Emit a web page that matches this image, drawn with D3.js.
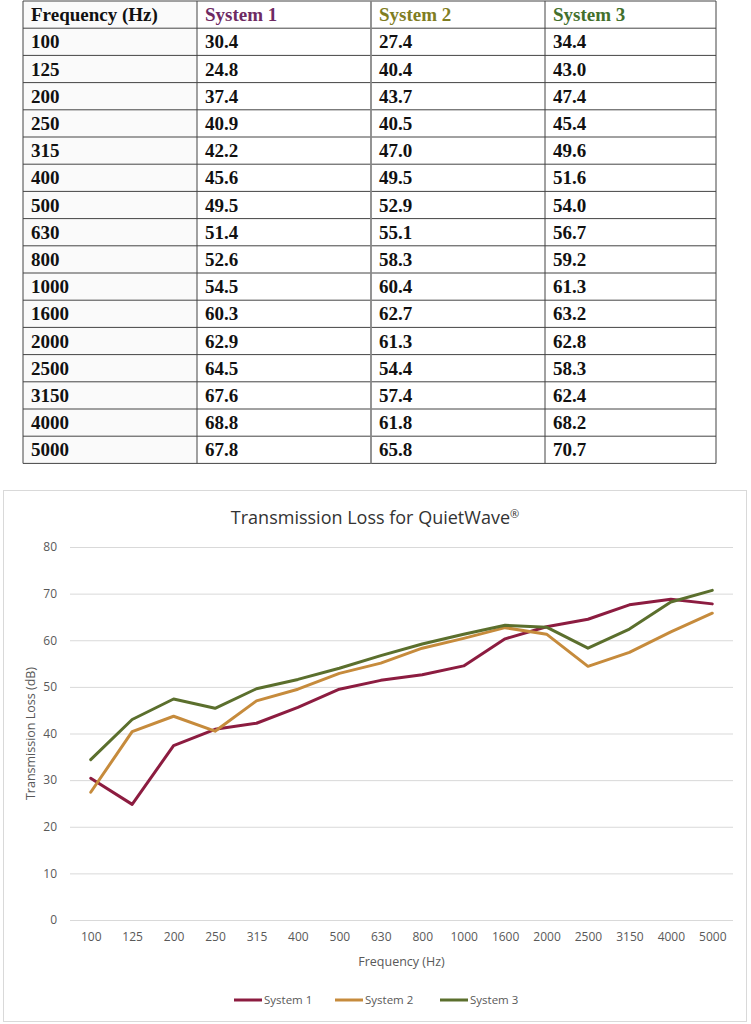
<!DOCTYPE html>
<html>
<head>
<meta charset="utf-8">
<script src="https://cdn.jsdelivr.net/npm/d3@7"></script>
<style>
  body { margin: 0; background: #fff; }
  svg { display: block; }
</style>
</head>
<body>
<div id="output"></div>
<script>
// Data
var frequencies = ['100', '125', '200', '250', '315', '400', '500', '630', '800', '1000', '1600', '2000', '2500', '3150', '4000', '5000'];
var system1 = [30.4, 24.8, 37.4, 40.9, 42.2, 45.6, 49.5, 51.4, 52.6, 54.5, 60.3, 62.9, 64.5, 67.6, 68.8, 67.8];
var system2 = [27.4, 40.4, 43.7, 40.5, 47.0, 49.5, 52.9, 55.1, 58.3, 60.4, 62.7, 61.3, 54.4, 57.4, 61.8, 65.8];
var system3 = [34.4, 43.0, 47.4, 45.4, 49.6, 51.6, 54.0, 56.7, 59.2, 61.3, 63.2, 62.8, 58.3, 62.4, 68.2, 70.7];
var seriesNames = ['System 1', 'System 2', 'System 3'];
var yTicks = [0, 10, 20, 30, 40, 50, 60, 70, 80];

var lineColors = ['#8c1c40', '#c68b3c', '#5b6f2d'];
var headColors = ['#6e2a63', '#7f7d22', '#43702c'];

var width = 751;
var height = 1024;

var svg = d3.select('#output')
  .append('svg')
  .attr('width', width)
  .attr('height', height);

// ---- Table ----
var colEdges = [23, 197, 371, 545, 716];
var tableTop = 1;
var rowH = 27.2;
var serif = '"Liberation Serif", serif';

var rows = frequencies.map(function(f, i) {
  return [f, system1[i].toFixed(1), system2[i].toFixed(1), system3[i].toFixed(1)];
});
var header = ['Frequency (Hz)'].concat(seriesNames);

var table = svg.append('g').attr('id', 'table');

// first column has a faint grey fill
table.append('rect')
  .attr('x', colEdges[0]).attr('y', tableTop)
  .attr('width', colEdges[1] - colEdges[0])
  .attr('height', rowH * (rows.length + 1))
  .attr('fill', '#fafafa');

var allRows = [header].concat(rows);
allRows.forEach(function(r, ri) {
  r.forEach(function(txt, ci) {
    table.append('text')
      .attr('x', colEdges[ci] + 8)
      .attr('y', tableTop + ri * rowH + rowH / 2 + 6.5)
      .attr('font-family', serif)
      .attr('font-weight', 'bold')
      .attr('font-size', 19)
      .attr('fill', ri === 0 && ci > 0 ? headColors[ci - 1] : '#111')
      .text(txt);
  });
});

// horizontal rules
d3.range(allRows.length + 1).forEach(function(i) {
  table.append('line')
    .attr('x1', colEdges[0]).attr('x2', colEdges[4])
    .attr('y1', tableTop + i * rowH).attr('y2', tableTop + i * rowH)
    .attr('stroke', '#444').attr('stroke-width', 1);
});
// vertical rules
colEdges.forEach(function(x, i) {
  table.append('line')
    .attr('x1', x).attr('x2', x)
    .attr('y1', tableTop).attr('y2', tableTop + rowH * allRows.length)
    .attr('stroke', i === 2 ? '#888' : '#444')
    .attr('stroke-width', i === 2 ? 1.8 : 1);
});

// ---- Chart ----
var sans = '"Open Sans", sans-serif';

svg.append('rect')
  .attr('x', 3.5).attr('y', 490.5)
  .attr('width', 743).attr('height', 531)
  .attr('fill', '#fff')
  .attr('stroke', '#d9d9d9');

var plot = { left: 70, right: 733, top: 547, bottom: 920 };

var xScale = d3.scalePoint()
  .domain(frequencies)
  .range([plot.left, plot.right])
  .padding(0.5);

var yScale = d3.scaleLinear()
  .domain([0, 80])
  .range([plot.bottom, plot.top]);

var title = svg.append('text')
  .attr('x', 375)
  .attr('y', 524)
  .attr('text-anchor', 'middle')
  .attr('font-family', sans)
  .attr('font-size', 18)
  .attr('fill', '#333');
title.append('tspan').text('Transmission Loss for QuietWave');
title.append('tspan')
  .attr('font-size', 11)
  .attr('dy', -6)
  .text('®');

// Y-axis with gridlines
var yAxis = d3.axisLeft(yScale)
  .tickValues(yTicks)
  .tickSize(-(plot.right - plot.left))
  .tickPadding(13);

var yG = svg.append('g')
  .attr('transform', 'translate(' + plot.left + ',0)')
  .call(yAxis);
yG.select('.domain').remove();
yG.selectAll('.tick line').attr('stroke', '#d9d9d9');
yG.selectAll('.tick text')
  .attr('font-family', sans).attr('font-size', 12).attr('fill', '#595959');

// X-axis labels only
var xAxis = d3.axisBottom(xScale).tickSize(0).tickPadding(12);
var xG = svg.append('g')
  .attr('transform', 'translate(0,' + plot.bottom + ')')
  .call(xAxis);
xG.select('.domain').remove();
xG.selectAll('.tick text')
  .attr('font-family', sans).attr('font-size', 12).attr('fill', '#595959');

svg.append('text')
  .attr('x', (plot.left + plot.right) / 2)
  .attr('y', 966)
  .attr('text-anchor', 'middle')
  .attr('font-family', sans).attr('font-size', 12.5).attr('fill', '#595959')
  .text('Frequency (Hz)');

svg.append('text')
  .attr('transform', 'translate(35,' + (plot.top + plot.bottom) / 2 + ') rotate(-90)')
  .attr('text-anchor', 'middle')
  .attr('font-family', sans).attr('font-size', 12.5).attr('fill', '#595959')
  .text('Transmission Loss (dB)');

// Lines
var line = d3.line()
  .x(function(d, i) { return xScale(frequencies[i]); })
  .y(function(d) { return yScale(d); });

[system1, system2, system3].forEach(function(s, i) {
  svg.append('path')
    .datum(s)
    .attr('d', line)
    .attr('fill', 'none')
    .attr('stroke', lineColors[i])
    .attr('stroke-width', 3)
    .attr('stroke-linejoin', 'round')
    .attr('stroke-linecap', 'round');
});

// Legend
var legendX = [234, 335, 440];
var legend = svg.append('g');
seriesNames.forEach(function(name, i) {
  legend.append('line')
    .attr('x1', legendX[i]).attr('x2', legendX[i] + 28)
    .attr('y1', 1000).attr('y2', 1000)
    .attr('stroke', lineColors[i]).attr('stroke-width', 3);
  legend.append('text')
    .attr('x', legendX[i] + 30)
    .attr('y', 1004)
    .attr('font-family', sans).attr('font-size', 11.5).attr('fill', '#595959')
    .text(name);
});
</script>
</body>
</html>
